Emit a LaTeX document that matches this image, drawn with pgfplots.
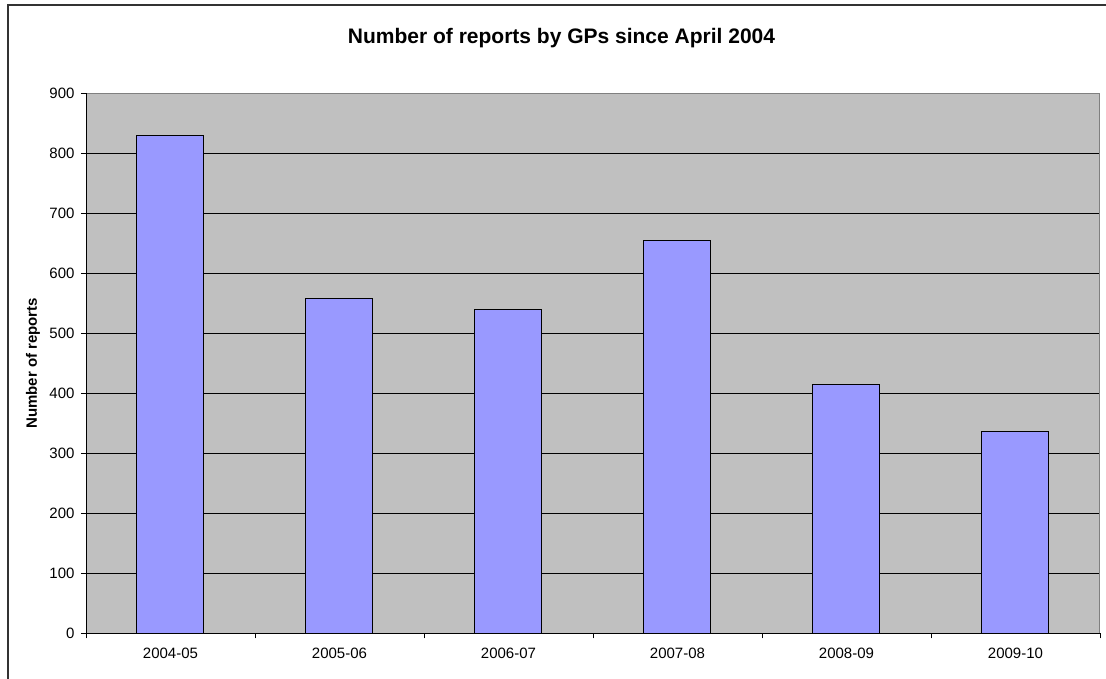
\documentclass[border=0pt]{standalone}
\usepackage{fontspec}
\setmainfont{Liberation Sans}
\usepackage{pgfplots}
\pgfplotsset{compat=1.18}
\definecolor{barfill}{HTML}{9999FF}
\definecolor{plotbg}{HTML}{C0C0C0}
\definecolor{areaedge}{HTML}{808080}

\begin{document}
\begin{tikzpicture}[x=1pt,y=1pt]
\useasboundingbox (-86,-45.7) rectangle (1020,633.3);
\draw[line width=2pt, color=black!80] (-78,628.3) rectangle (1040,-70);
\begin{axis}[
    at={(0,0)}, anchor=south west,
    scale only axis, width=1014pt, height=540pt,
    xmin=-0.5, xmax=5.5, ymin=0, ymax=900,
    axis background/.style={fill=plotbg},
    axis line style={draw=areaedge, line width=1pt},
    ytick={0,100,...,900},
    xtick={0,1,2,3,4,5},
    xticklabels={2004-05,2005-06,2006-07,2007-08,2008-09,2009-10},
    minor xtick={-0.5,0.5,...,5.5},
    xtick pos=bottom, ytick pos=left,
    x tick style={draw=none},
    minor x tick style={draw=black, line width=0.8pt},
    y tick style={draw=black, line width=0.8pt},
    tick align=outside,
    major tick length=5pt, minor tick length=5pt,
    ymajorgrids, major grid style={black, line width=0.8pt},
    /pgf/number format/assume math mode=true,
    ticklabel style={font=\fontsize{15}{17}\selectfont},
    yticklabel style={xshift=-3pt},
    xticklabel style={yshift=-6pt},
    ybar, bar width=67pt,
]
\addplot[fill=barfill, draw=black, line width=1pt] coordinates {
    (0,829) (1,558) (2,540) (3,654) (4,415) (5,337)
};
\draw[black, line width=1pt] (rel axis cs:0,1) -- (rel axis cs:0,0) -- (rel axis cs:1,0);
\end{axis}
\node[anchor=base, font=\bfseries\fontsize{21}{25}\selectfont] at (475.5,590) {Number of reports by GPs since April 2004};
\node[rotate=90, font=\bfseries\fontsize{15}{17}\selectfont] at (-53,270) {Number of reports};
\end{tikzpicture}
\end{document}
